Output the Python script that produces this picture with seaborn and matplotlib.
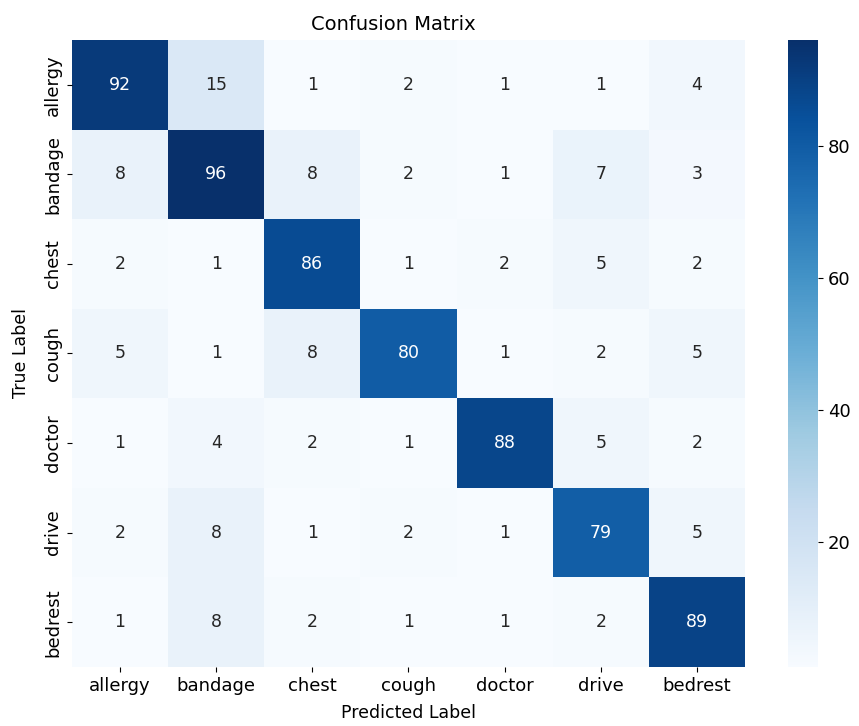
import numpy as np
import pandas as pd
import matplotlib
matplotlib.use("Agg")
import matplotlib.pyplot as plt
import seaborn as sns

labels = ["allergy", "bandage", "chest", "cough", "doctor", "drive", "bedrest"]
row_allergy = [92, 15, 1, 2, 1, 1, 4]
row_bandage = [8, 96, 8, 2, 1, 7, 3]
row_chest = [2, 1, 86, 1, 2, 5, 2]
row_cough = [5, 1, 8, 80, 1, 2, 5]
row_doctor = [1, 4, 2, 1, 88, 5, 2]
row_drive = [2, 8, 1, 2, 1, 79, 5]
row_bedrest = [1, 8, 2, 1, 1, 2, 89]

cm = pd.DataFrame(
    [row_allergy, row_bandage, row_chest, row_cough, row_doctor, row_drive, row_bedrest],
    index=labels, columns=labels,
)

fig = plt.figure(figsize=(8.59, 7.26), dpi=100)
ax = fig.add_axes([0.0838, 0.0813, 0.7835, 0.8636])
cax = fig.add_axes([0.9173, 0.0813, 0.0349, 0.8636])

sns.heatmap(cm, annot=True, fmt="d", cmap="Blues", ax=ax, cbar_ax=cax,
            annot_kws={"size": 12.5})

ax.set_title("Confusion Matrix", fontsize=14, pad=7, x=0.477)
ax.set_xlabel("Predicted Label", fontsize=12.5, labelpad=7)
ax.set_ylabel("True Label", fontsize=12.5, labelpad=10)
ax.tick_params(axis="both", labelsize=13)
plt.setp(ax.get_yticklabels(), rotation=90, va="center")
cax.tick_params(labelsize=13)

fig.savefig("out.png", dpi=100)
